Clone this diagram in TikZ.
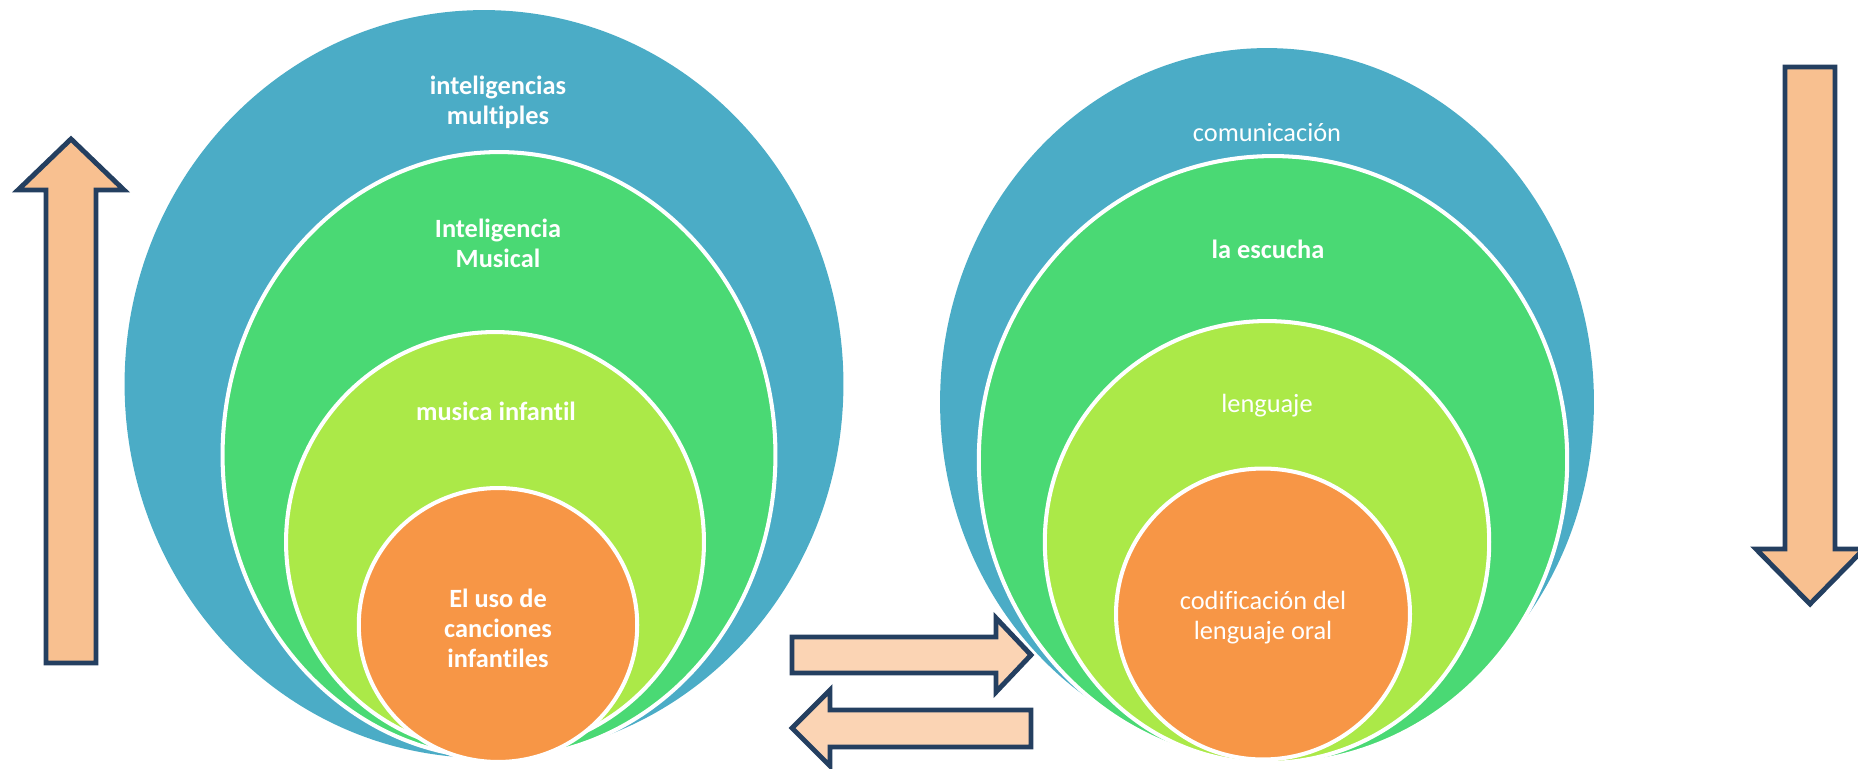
\documentclass[tikz,border=0pt]{standalone}
\usepackage{fontspec}
\setmainfont[Ligatures=NoCommon]{Carlito}
\usetikzlibrary{shapes.geometric}
\definecolor{ringblue}{HTML}{4BACC6}
\definecolor{ringgreen}{HTML}{4AD974}
\definecolor{ringlime}{HTML}{ABE948}
\definecolor{ringorange}{HTML}{F79646}
\definecolor{arrowline}{HTML}{243F60}
\definecolor{arrowfill}{HTML}{F8C090}
\definecolor{arrowlight}{HTML}{FBD4B4}
\tikzset{ring/.style={ellipse, draw=white, line width=2.3pt, inner sep=0pt},
         ring text/.style={text=white, align=center, font=\fontsize{15}{17}\selectfont},
         block arrow/.style={draw=arrowline, line width=2.8pt, line join=miter},}

\begin{document}
\begin{tikzpicture}[x=0.02cm, y=-0.02cm]
        \useasboundingbox (0,0) rectangle (1858,768);
        % Left rings
        \node[ring, draw=none, fill=ringblue, minimum width=14.38cm, minimum height=14.96cm] (blueL) at (484,384) {};
        \node[ring, fill=ringgreen, minimum width=11.06cm, minimum height=12.12cm] (greenL) at (499,455) {};
        \node[ring, fill=ringlime, minimum width=8.36cm, minimum height=8.40cm] (limeL) at (495,542) {};
        \node[ring, fill=ringorange, minimum width=5.57cm, minimum height=5.48cm] (orangeL) at (498,625) {};
        % Right rings
        \node[ring, draw=none, fill=ringblue, minimum width=13.08cm, minimum height=14.16cm] (blueR) at (1267,402) {};
        \node[ring, fill=ringgreen, minimum width=11.77cm, minimum height=12.16cm] (greenR) at (1273,460) {};
        \node[ring, fill=ringlime, minimum width=8.89cm, minimum height=8.84cm] (limeR) at (1267,542) {};
        \node[ring, fill=ringorange, minimum width=5.88cm, minimum height=5.82cm] (orangeR) at (1263,614) {};
        % Labels
        \node[ring text, font=\bfseries\fontsize{15}{17}\selectfont] (multiples) at (498,102) {inteligencias\\multiples};
        \node[ring text, font=\bfseries\fontsize{15}{17}\selectfont] (musical) at (498,243) {Inteligencia\\Musical};
        \node[ring text, font=\bfseries\fontsize{15}{17}\selectfont] (infantil) at (496,411) {musica infantil};
        \node[ring text, font=\bfseries\fontsize{15}{17}\selectfont] (canciones) at (498,628) {El uso de\\canciones\\infantiles};
        \node[ring text] (comunicacion) at (1267,133) {comunicación};
        \node[ring text, font=\bfseries\fontsize{15}{17}\selectfont] (escucha) at (1268,249) {la escucha};
        \node[ring text] (lenguaje) at (1267,406) {lenguaje};
        \node[ring text] (codificacion) at (1263,618) {codificación del\\lenguaje oral};
        % Arrows
        \draw[block arrow, fill=arrowfill] (46,663) -- (46,190) -- (18,190) -- (71,139) -- (124,190) -- (96,190) -- (96,663) -- cycle;
        \draw[block arrow, fill=arrowfill] (1785,67) -- (1835,67) -- (1835,549) -- (1864,549) -- (1810,604) -- (1756,549) -- (1785,549) -- cycle;
        \draw[block arrow, fill=arrowlight] (792,637) -- (996,637) -- (996,618) -- (1031,655) -- (996,692) -- (996,673) -- (792,673) -- cycle;
        \draw[block arrow, fill=arrowlight] (1031,710) -- (830,710) -- (830,690) -- (792,728) -- (830,766) -- (830,747) -- (1031,747) -- cycle;
    \end{tikzpicture}
\end{document}
